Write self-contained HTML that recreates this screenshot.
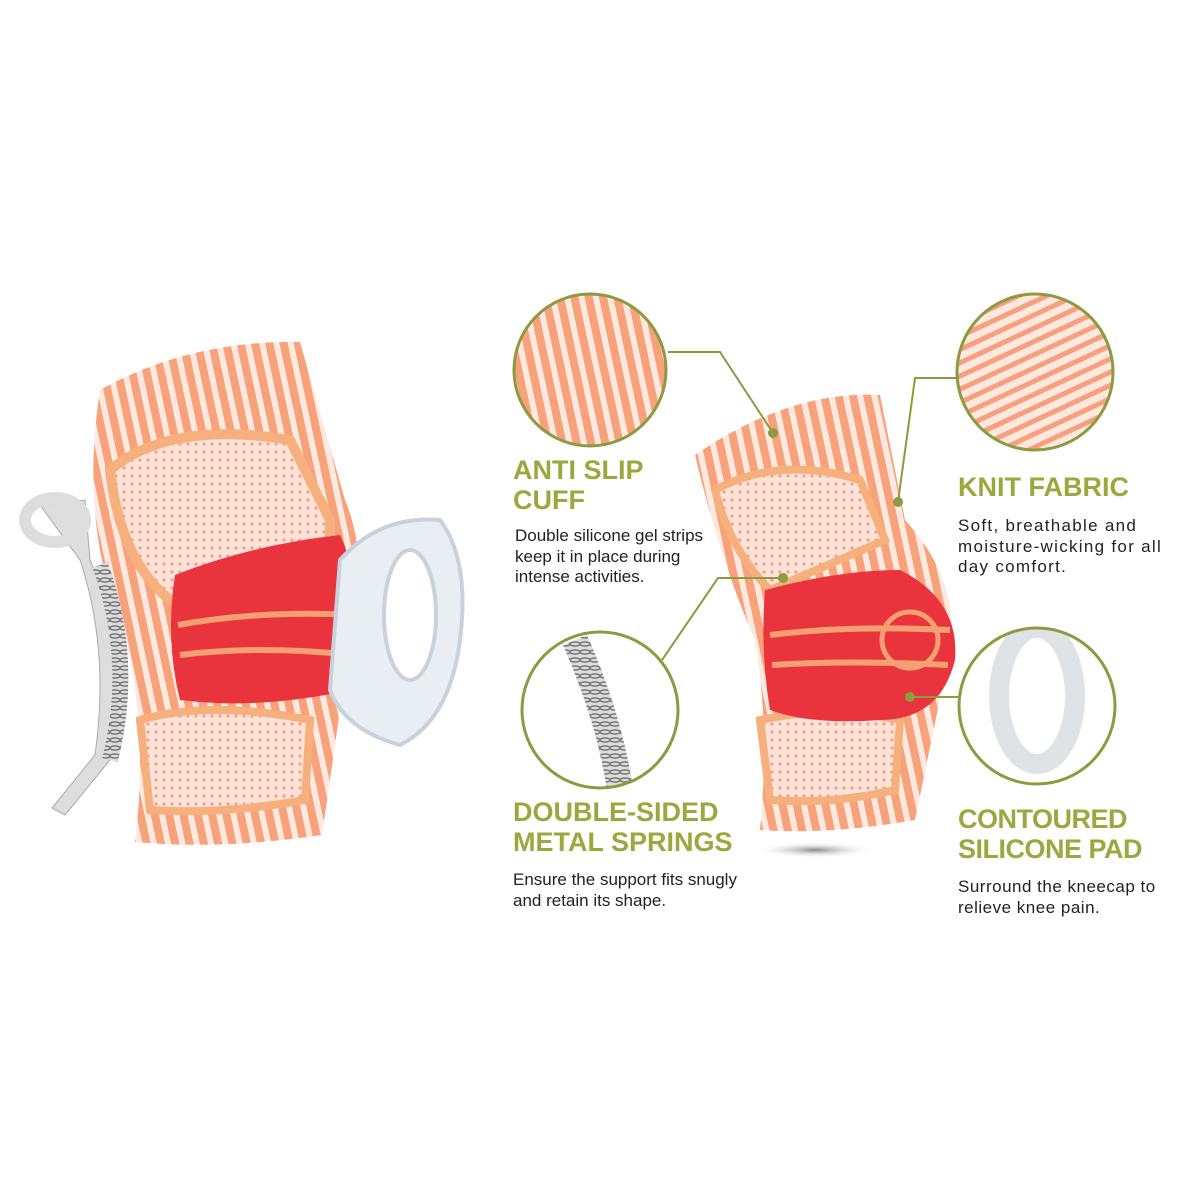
<!DOCTYPE html>
<html><head><meta charset="utf-8"><style>
body{margin:0;background:#fff;width:1200px;height:1200px;overflow:hidden;font-family:"Liberation Sans",sans-serif}
.h{position:absolute;color:#9aa83e;font-weight:bold;font-size:27px;line-height:30px;letter-spacing:0px}
.t{position:absolute;color:#222;font-size:17px;line-height:20.5px}
</style></head><body>
<svg width="1200" height="1200" style="position:absolute;left:0;top:0">
<defs>
<pattern id="st" width="14" height="14" patternUnits="userSpaceOnUse" patternTransform="rotate(-12)">
<rect width="14" height="14" fill="#f7a27a"/><rect width="6" height="14" fill="#fde9e0"/></pattern>
<pattern id="mesh" width="8" height="8" patternUnits="userSpaceOnUse">
<rect width="8" height="8" fill="#fbe3da"/><circle cx="4" cy="4" r="1.6" fill="#f4a184"/></pattern>
<pattern id="knit" width="16" height="12" patternUnits="userSpaceOnUse" patternTransform="rotate(-25)">
<rect width="16" height="12" fill="#fde8e0"/><rect width="16" height="5" fill="#f6a07e"/></pattern>
<pattern id="spr" width="10" height="8" patternUnits="userSpaceOnUse">
<rect width="10" height="8" fill="#ddd"/><ellipse cx="5" cy="4" rx="5" ry="2" fill="none" stroke="#777" stroke-width="1.5"/></pattern>
<clipPath id="c1"><circle cx="590" cy="370" r="76"/></clipPath>
<clipPath id="c2"><circle cx="1035" cy="372" r="78"/></clipPath>
<clipPath id="c3"><circle cx="600" cy="710" r="78"/></clipPath>
<clipPath id="c4"><circle cx="1037" cy="706" r="78"/></clipPath>
<radialGradient id="sh"><stop offset="0" stop-color="#888"/><stop offset="1" stop-color="#fff" stop-opacity="0"/></radialGradient>
</defs>

<g>
<path d="M100,390 Q190,340 300,342 L345,500 Q370,560 350,640 L322,835 Q220,850 135,842 Q150,720 120,620 Q80,520 100,390Z" fill="url(#st)"/>
<path d="M110,470 Q170,420 290,440 L330,520 L330,560 L170,600 Q120,560 110,470Z" fill="url(#mesh)" stroke="#f5b07e" stroke-width="10"/>
<path d="M140,720 Q210,700 310,720 L305,800 Q220,815 150,810Z" fill="url(#mesh)" stroke="#f5b07e" stroke-width="8"/>
<path d="M175,575 Q250,545 340,535 Q370,600 350,690 Q260,710 180,700 Q165,640 175,575Z" fill="#e9343d"/>
<path d="M178,625 Q260,610 355,615" stroke="#f5a070" stroke-width="6" fill="none"/>
<path d="M180,655 Q260,645 352,655" stroke="#f5a070" stroke-width="6" fill="none"/>
</g>
<path d="M40,505 L85,500 L90,560 Q130,650 110,760 L65,815 L52,808 L95,755 Q110,650 80,560Z" fill="#ddd" stroke="#aaa"/>
<path d="M100,565 Q135,660 110,760" stroke="url(#spr)" stroke-width="16" fill="none"/>
<ellipse cx="55" cy="520" rx="30" ry="22" fill="none" stroke="#ddd" stroke-width="12"/>
<path d="M340,560 Q380,515 440,520 Q470,560 460,640 Q450,720 400,745 Q345,730 330,690Z" fill="#e9eef3" stroke="#c8d2dc" stroke-width="4"/>
<ellipse cx="410" cy="615" rx="26" ry="65" fill="#fff" stroke="#c8d2dc" stroke-width="4"/>

<ellipse cx="815" cy="850" rx="60" ry="8" fill="url(#sh)"/>
<path d="M695,455 Q790,390 880,395 L905,520 Q960,580 950,650 L915,820 Q830,835 760,830 Q770,730 755,640 Q720,560 695,455Z" fill="url(#st)"/>
<path d="M715,490 Q780,455 860,480 L885,540 L770,590 Q730,550 715,490Z" fill="url(#mesh)" stroke="#f5b07e" stroke-width="8"/>
<path d="M760,720 Q830,705 900,720 L895,790 Q830,805 770,800Z" fill="url(#mesh)" stroke="#f5b07e" stroke-width="8"/>
<path d="M765,590 Q840,570 900,570 Q960,600 955,660 Q940,720 880,720 Q810,725 770,710 Q760,650 765,590Z" fill="#e9343d"/>
<path d="M770,635 Q850,625 950,630" stroke="#f5a070" stroke-width="6" fill="none"/>
<path d="M772,665 Q850,660 948,665" stroke="#f5a070" stroke-width="6" fill="none"/>
<circle cx="910" cy="640" r="28" fill="none" stroke="#f5a070" stroke-width="5"/>

<g clip-path="url(#c1)"><rect x="500" y="280" width="180" height="180" fill="url(#st)"/></g>
<circle cx="590" cy="370" r="76" fill="none" stroke="#8c9a40" stroke-width="3"/>
<g clip-path="url(#c2)"><rect x="950" y="290" width="170" height="170" fill="url(#knit)"/></g>
<circle cx="1035" cy="372" r="78" fill="none" stroke="#8c9a40" stroke-width="3"/>
<g clip-path="url(#c3)"><rect x="520" y="630" width="160" height="160" fill="#fff"/><path d="M575,640 Q610,720 620,790" stroke="url(#spr)" stroke-width="26" fill="none"/></g>
<circle cx="600" cy="710" r="78" fill="none" stroke="#8c9a40" stroke-width="3"/>
<g clip-path="url(#c4)"><ellipse cx="1037" cy="696" rx="38" ry="68" fill="none" stroke="#dfe3e6" stroke-width="20"/></g>
<circle cx="1037" cy="706" r="78" fill="none" stroke="#8c9a40" stroke-width="3"/>

<g stroke="#8c9a40" stroke-width="2" fill="#8c9a40">
<polyline points="668,352 720,352 773,433" fill="none"/><circle cx="773" cy="433" r="4"/>
<polyline points="957,378 915,378 898,502" fill="none"/><circle cx="898" cy="502" r="4"/>
<polyline points="662,660 718,578 783,578" fill="none"/><circle cx="783" cy="578" r="4"/>
<polyline points="958,697 910,697" fill="none"/><circle cx="910" cy="697" r="4"/>
</g>
</svg>

<div class="h" style="left:513px;top:455px">ANTI SLIP<br>CUFF</div>
<div class="t" style="left:515px;top:526px">Double silicone gel strips<br>keep it in place during<br>intense activities.</div>
<div class="h" style="left:958px;top:472px">KNIT FABRIC</div>
<div class="t" style="left:958px;top:516px;letter-spacing:1.3px">Soft, breathable and<br>moisture-wicking for all<br>day comfort.</div>
<div class="h" style="left:513px;top:797px">DOUBLE-SIDED<br>METAL SPRINGS</div>
<div class="t" style="left:513px;top:870px">Ensure the support fits snugly<br>and retain its shape.</div>
<div class="h" style="left:958px;top:804px;letter-spacing:-0.5px">CONTOURED<br>SILICONE PAD</div>
<div class="t" style="left:958px;top:877px;letter-spacing:0.5px">Surround the kneecap to<br>relieve knee pain.</div>
</body></html>
